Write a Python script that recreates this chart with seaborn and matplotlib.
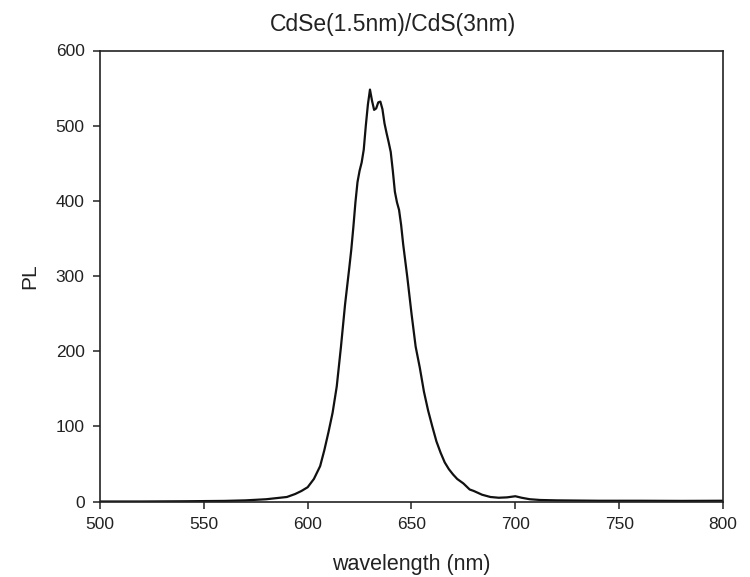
import matplotlib
matplotlib.use("Agg")
import matplotlib.pyplot as plt
import seaborn as sns
import pandas as pd

wavelength = [500, 520, 540, 560, 570, 580, 585, 590, 594, 597, 600, 603, 606, 608,
              610, 612, 614, 616, 618, 620, 621, 622, 623, 624, 625, 626, 627, 628,
              629, 630, 631, 632, 633, 634, 635, 636, 637, 638, 639, 640, 641, 642,
              643, 644, 645, 646, 647, 648, 650, 652, 654, 656, 658, 660, 662, 664,
              666, 668, 670, 672, 675, 678, 680, 684, 688, 692, 696, 700, 703, 707,
              712, 720, 740, 760, 780, 800]
pl = [0, 0, 0.3, 0.8, 1.5, 3, 4.5, 6, 10, 14, 19, 30, 47, 68,
      92, 118, 153, 205, 262, 310, 335, 365, 398, 425, 440, 451, 468, 500,
      528, 548, 533, 521, 523, 531, 532, 522, 503, 490, 478, 465, 440, 412,
      398, 388, 368, 342, 320, 298, 250, 206, 178, 146, 121, 100, 80, 65,
      52, 43, 36, 30, 24, 16, 14, 9, 6, 5, 5.5, 7, 5, 3,
      2, 1.5, 1, 1, 0.8, 1]

xticks = [500, 550, 600, 650, 700, 750, 800]
yticks = [0, 100, 200, 300, 400, 500, 600]

df = pd.DataFrame({"wavelength": wavelength, "PL": pl})

sns.set_theme(style="ticks")
plt.rcParams["font.family"] = ["Liberation Sans", "DejaVu Sans"]

fig = plt.figure(figsize=(7.5, 5.77), dpi=100)
ax = fig.add_axes([100 / 750, 1 - 501.5 / 577, 623 / 750, 451 / 577])

sns.lineplot(data=df, x="wavelength", y="PL", ax=ax, color="#111111", linewidth=1.6)

ax.set_xlim(500, 800)
ax.set_ylim(0, 600)
ax.set_xticks(xticks)
ax.set_yticks(yticks)
ax.tick_params(axis="both", direction="out", length=5, width=1.1, labelsize=12.5,
               colors="#222222", pad=6)
for s in ax.spines.values():
    s.set_visible(True)
    s.set_linewidth(1.2)
    s.set_color("#222222")

ax.set_xlabel("wavelength (nm)", fontsize=15.5, color="#222222", labelpad=16)
ax.set_ylabel("PL", fontsize=15, color="#222222", labelpad=12)
ax.set_title("CdSe(1.5nm)/CdS(3nm)", fontsize=16.5, color="#222222", x=0.47, pad=14)

fig.savefig("out.png", dpi=100, facecolor="white")
